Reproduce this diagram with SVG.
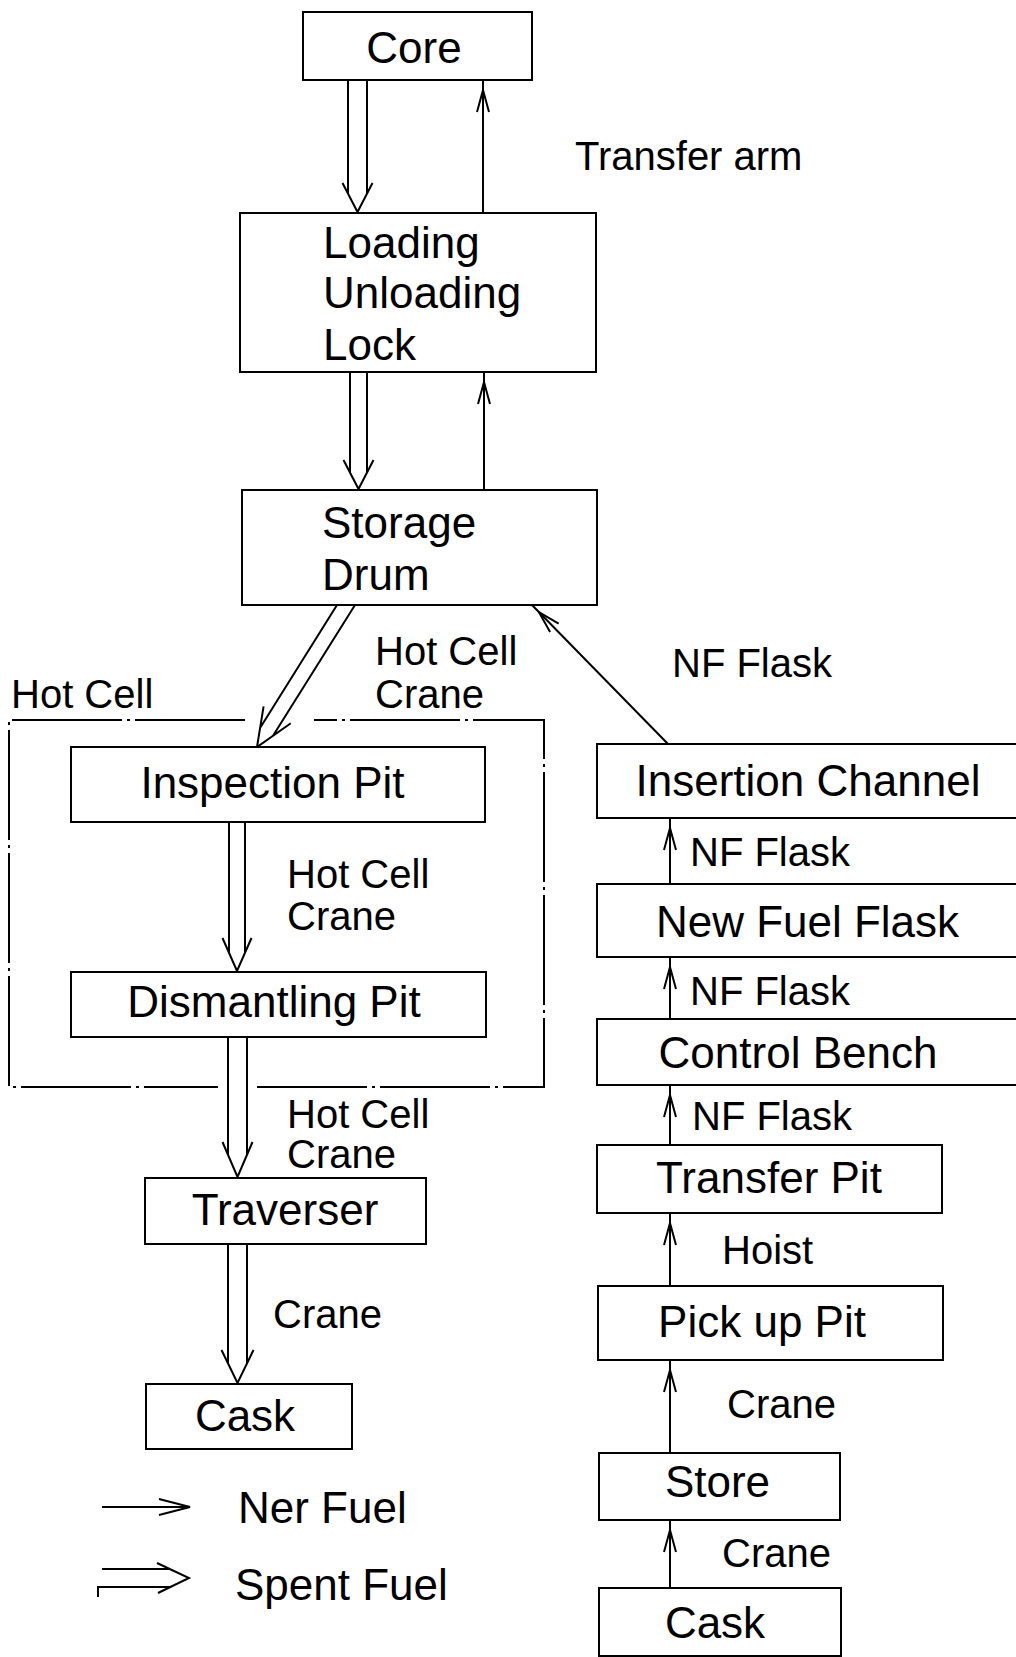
<svg xmlns="http://www.w3.org/2000/svg" width="1016" height="1657" viewBox="0 0 1016 1657">
<style>
.box{fill:#fff;stroke:#000;stroke-width:2}
.hot{fill:none;stroke:#000;stroke-width:2;stroke-dasharray:110 5 3 5}
.sf{fill:none;stroke:#000;stroke-width:2;stroke-linejoin:miter}
.nf{fill:none;stroke:#000;stroke-width:2;marker-end:url(#caret)}
.t{font-family:"Liberation Sans",Arial,Helvetica,sans-serif;font-size:44px;fill:#000}
.c{text-anchor:middle}
.l{font-family:"Liberation Sans",Arial,Helvetica,sans-serif;font-size:40px;fill:#000}
</style>
<defs>
<marker id="caret" markerUnits="userSpaceOnUse" markerWidth="40" markerHeight="20" viewBox="-30 -10 40 20" refX="10" refY="0" orient="auto" overflow="visible">
<path d="M-22,-6 L0,0 L-22,6" fill="none" stroke="#000" stroke-width="2"/>
</marker>
</defs>
<rect width="1016" height="1657" fill="#fff"/>

<g id="hot-cell">
<path class="hot" d="M245,720 H9 V1087 H218 M257,1087 H544 V720 H314"/>
<text class="l" x="11" y="708">Hot Cell</text>
</g>

<g id="connectors">
<!-- spent fuel (double) -->
<path class="sf" d="M348,80 V193.6 M367,80 V193.6 M342.5,183 L357.5,212 L372.5,183"/>
<path class="sf" d="M350,372 V472.6 M367,372 V472.6 M343.5,460 L358.5,489 L373.5,460"/>
<path class="sf" d="M337,605 L260.2,727.8 M355,605 L273,735.8 M263.6,706.3 L257,747 L290.8,723.3"/>
<path class="sf" d="M229,822 V952.8 M245,822 V952.8 M222.5,938 L237,971 L251.5,938"/>
<path class="sf" d="M228,1037 V1154.8 M247,1037 V1154.8 M222.5,1142 L237.5,1177 L252.5,1142"/>
<path class="sf" d="M228,1244 V1363.4 M247,1244 V1363.4 M221.5,1350 L237.5,1383 L253.5,1350"/>
<!-- new fuel (single) -->
<path class="nf" d="M483,213 V80"/>
<path class="nf" d="M484,489 V372"/>
<path class="nf" d="M668,744 L532,605"/>
<path class="nf" d="M670,884 V818"/>
<path class="nf" d="M670,1019 V957"/>
<path class="nf" d="M670,1145 V1085"/>
<path class="nf" d="M670,1286 V1213"/>
<path class="nf" d="M670,1453 V1360"/>
<path class="nf" d="M670,1588 V1520"/>
<!-- labels -->
<text class="l" x="575" y="170">Transfer arm</text>
<text class="l" x="375" y="665">Hot Cell</text>
<text class="l" x="375" y="708">Crane</text>
<text class="l" x="672" y="677">NF Flask</text>
<text class="l" x="287" y="888">Hot Cell</text>
<text class="l" x="287" y="930">Crane</text>
<text class="l" x="287" y="1128">Hot Cell</text>
<text class="l" x="287" y="1168">Crane</text>
<text class="l" x="273" y="1328">Crane</text>
<text class="l" x="690" y="866">NF Flask</text>
<text class="l" x="690" y="1005">NF Flask</text>
<text class="l" x="692" y="1130">NF Flask</text>
<text class="l" x="722" y="1264">Hoist</text>
<text class="l" x="727" y="1418">Crane</text>
<text class="l" x="722" y="1567">Crane</text>
</g>

<g id="core"><rect class="box" x="303" y="12" width="229" height="68"/><text class="t c" x="414" y="63">Core</text></g>
<g id="lock"><rect class="box" x="240" y="213" width="356" height="159"/>
<text class="t" x="323" y="258">Loading</text><text class="t" x="323" y="308">Unloading</text><text class="t" x="323" y="360">Lock</text></g>
<g id="storage-drum"><rect class="box" x="242" y="490" width="355" height="115"/>
<text class="t" x="322" y="538">Storage</text><text class="t" x="322" y="590">Drum</text></g>
<g id="inspection-pit"><rect class="box" x="71" y="747" width="414" height="75"/><text class="t c" x="272.5" y="798">Inspection Pit</text></g>
<g id="dismantling-pit"><rect class="box" x="71" y="972" width="415" height="65"/><text class="t c" x="274" y="1017">Dismantling Pit</text></g>
<g id="traverser"><rect class="box" x="145" y="1178" width="281" height="66"/><text class="t c" x="285" y="1225">Traverser</text></g>
<g id="cask-out"><rect class="box" x="146" y="1384" width="206" height="65"/><text class="t c" x="245" y="1431">Cask</text></g>
<g id="insertion-channel"><rect class="box" x="597" y="744" width="440" height="74"/><text class="t c" x="808" y="796">Insertion Channel</text></g>
<g id="new-fuel-flask"><rect class="box" x="597" y="884" width="440" height="73"/><text class="t c" x="807.5" y="937">New Fuel Flask</text></g>
<g id="control-bench"><rect class="box" x="597" y="1019" width="440" height="66"/><text class="t c" x="798" y="1068">Control Bench</text></g>
<g id="transfer-pit"><rect class="box" x="597" y="1145" width="345" height="68"/><text class="t c" x="769" y="1193">Transfer Pit</text></g>
<g id="pick-up-pit"><rect class="box" x="598" y="1286" width="345" height="74"/><text class="t c" x="762" y="1337">Pick up Pit</text></g>
<g id="store"><rect class="box" x="599" y="1453" width="241" height="67"/><text class="t c" x="717.5" y="1497">Store</text></g>
<g id="cask-in"><rect class="box" x="599" y="1588" width="242" height="68"/><text class="t c" x="715" y="1638">Cask</text></g>

<g id="legend">
<path class="sf" d="M102,1507 H190 M159,1499 L190,1507 L159,1515"/>
<text class="t" x="238" y="1523">Ner Fuel</text>
<path class="sf" d="M102,1569 H170 M98,1597 V1587 H170 M157,1563 L189,1578 L158,1593"/>
<text class="t" x="235" y="1600">Spent Fuel</text>
</g>
</svg>
